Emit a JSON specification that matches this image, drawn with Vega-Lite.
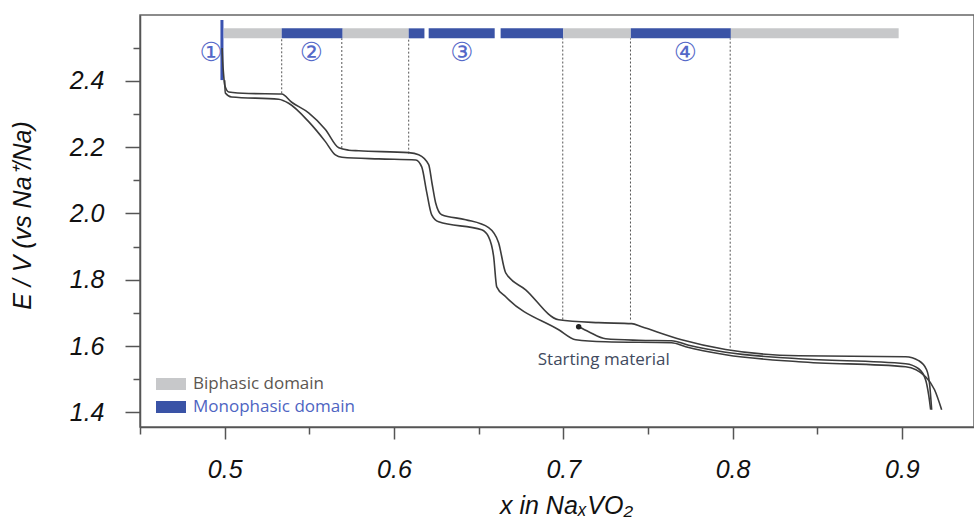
{
  "$schema": "https://vega.github.io/schema/vega-lite/v6.json",
  "width": 834,
  "height": 412,
  "autosize": {"type": "none"},
  "padding": {"left": 140, "top": 15, "right": 0, "bottom": 98},
  "background": "white",
  "config": {
    "view": {"stroke": "#666", "strokeWidth": 1.5},
    "axis": {"grid": false}
  },
  "datasets": {
    "curves": [
      {"run": "charge", "x": 0.4985, "y": 2.4985},
      {"run": "charge", "x": 0.4988, "y": 2.4626},
      {"run": "charge", "x": 0.4994, "y": 2.4175},
      {"run": "charge", "x": 0.5, "y": 2.3873},
      {"run": "charge", "x": 0.5024, "y": 2.366},
      {"run": "charge", "x": 0.5142, "y": 2.3614},
      {"run": "charge", "x": 0.5337, "y": 2.36},
      {"run": "charge", "x": 0.5396, "y": 2.335},
      {"run": "charge", "x": 0.5496, "y": 2.303},
      {"run": "charge", "x": 0.5595, "y": 2.253},
      {"run": "charge", "x": 0.5674, "y": 2.1976},
      {"run": "charge", "x": 0.5733, "y": 2.1905},
      {"run": "charge", "x": 0.5792, "y": 2.1886},
      {"run": "charge", "x": 0.6087, "y": 2.183},
      {"run": "charge", "x": 0.6146, "y": 2.1769},
      {"run": "charge", "x": 0.6205, "y": 2.1467},
      {"run": "charge", "x": 0.6225, "y": 2.09},
      {"run": "charge", "x": 0.6246, "y": 2.0322},
      {"run": "charge", "x": 0.6282, "y": 1.9961},
      {"run": "charge", "x": 0.6424, "y": 1.981},
      {"run": "charge", "x": 0.6559, "y": 1.957},
      {"run": "charge", "x": 0.6618, "y": 1.9117},
      {"run": "charge", "x": 0.666, "y": 1.8208},
      {"run": "charge", "x": 0.6778, "y": 1.7696},
      {"run": "charge", "x": 0.6973, "y": 1.6792},
      {"run": "charge", "x": 0.7209, "y": 1.6705},
      {"run": "charge", "x": 0.7404, "y": 1.6675},
      {"run": "charge", "x": 0.7463, "y": 1.6581},
      {"run": "charge", "x": 0.7699, "y": 1.619},
      {"run": "charge", "x": 0.7959, "y": 1.5895},
      {"run": "charge", "x": 0.839, "y": 1.5708},
      {"run": "charge", "x": 0.9022, "y": 1.5678},
      {"run": "charge", "x": 0.9099, "y": 1.556},
      {"run": "charge", "x": 0.9146, "y": 1.5286},
      {"run": "charge", "x": 0.9164, "y": 1.4835},
      {"run": "charge", "x": 0.9176, "y": 1.4081},
      {"run": "discharge", "x": 0.5, "y": 2.4015},
      {"run": "discharge", "x": 0.5004, "y": 2.363},
      {"run": "discharge", "x": 0.5041, "y": 2.3509},
      {"run": "discharge", "x": 0.5319, "y": 2.344},
      {"run": "discharge", "x": 0.5378, "y": 2.3319},
      {"run": "discharge", "x": 0.5496, "y": 2.2765},
      {"run": "discharge", "x": 0.5595, "y": 2.2163},
      {"run": "discharge", "x": 0.5654, "y": 2.1762},
      {"run": "discharge", "x": 0.5693, "y": 2.1693},
      {"run": "discharge", "x": 0.591, "y": 2.1642},
      {"run": "discharge", "x": 0.6129, "y": 2.1611},
      {"run": "discharge", "x": 0.6164, "y": 2.14},
      {"run": "discharge", "x": 0.6193, "y": 2.065},
      {"run": "discharge", "x": 0.6223, "y": 1.9955},
      {"run": "discharge", "x": 0.6264, "y": 1.9744},
      {"run": "discharge", "x": 0.6518, "y": 1.9503},
      {"run": "discharge", "x": 0.6559, "y": 1.9292},
      {"run": "discharge", "x": 0.6589, "y": 1.869},
      {"run": "discharge", "x": 0.6607, "y": 1.7786},
      {"run": "discharge", "x": 0.666, "y": 1.7485},
      {"run": "discharge", "x": 0.6973, "y": 1.6491},
      {"run": "discharge", "x": 0.7074, "y": 1.619},
      {"run": "discharge", "x": 0.725, "y": 1.6129},
      {"run": "discharge", "x": 0.764, "y": 1.6099},
      {"run": "discharge", "x": 0.7723, "y": 1.5979},
      {"run": "discharge", "x": 0.7959, "y": 1.5738},
      {"run": "discharge", "x": 0.839, "y": 1.5527},
      {"run": "discharge", "x": 0.9022, "y": 1.5377},
      {"run": "discharge", "x": 0.914, "y": 1.5075},
      {"run": "discharge", "x": 0.9193, "y": 1.4684},
      {"run": "discharge", "x": 0.9235, "y": 1.4081},
      {"run": "first", "x": 0.7091, "y": 1.6581},
      {"run": "first", "x": 0.715, "y": 1.6431},
      {"run": "first", "x": 0.725, "y": 1.622},
      {"run": "first", "x": 0.7445, "y": 1.6175},
      {"run": "first", "x": 0.764, "y": 1.616},
      {"run": "first", "x": 0.7741, "y": 1.6024},
      {"run": "first", "x": 0.7959, "y": 1.5813},
      {"run": "first", "x": 0.839, "y": 1.5617},
      {"run": "first", "x": 0.9022, "y": 1.5467},
      {"run": "first", "x": 0.9099, "y": 1.5316},
      {"run": "first", "x": 0.914, "y": 1.4985},
      {"run": "first", "x": 0.9158, "y": 1.4533},
      {"run": "first", "x": 0.917, "y": 1.4081}
    ],
    "bars": [
      {"phase": "Biphasic domain", "x": 0.4995, "x2": 0.5337},
      {"phase": "Monophasic domain", "x": 0.5337, "x2": 0.5697},
      {"phase": "Biphasic domain", "x": 0.5697, "x2": 0.6087},
      {"phase": "Monophasic domain", "x": 0.6087, "x2": 0.618},
      {"phase": "Monophasic domain", "x": 0.6205, "x2": 0.6595},
      {"phase": "Monophasic domain", "x": 0.663, "x2": 0.7},
      {"phase": "Biphasic domain", "x": 0.7, "x2": 0.7399},
      {"phase": "Monophasic domain", "x": 0.7399, "x2": 0.799},
      {"phase": "Biphasic domain", "x": 0.799, "x2": 0.8981}
    ],
    "bounds": [
      {"x": 0.5337, "y": 2.362},
      {"x": 0.5692, "y": 2.197},
      {"x": 0.6087, "y": 2.18},
      {"x": 0.6997, "y": 1.68},
      {"x": 0.7397, "y": 1.68},
      {"x": 0.7986, "y": 1.595}
    ],
    "domain1": [{"x": 0.4984, "y": 2.4018, "y2": 2.583}],
    "regions": [
      {"label": "①", "x": 0.4921, "y": 2.4834},
      {"label": "②", "x": 0.5512, "y": 2.4834},
      {"label": "③", "x": 0.6402, "y": 2.4834},
      {"label": "④", "x": 0.7721, "y": 2.4834}
    ],
    "start": [{"label": "Starting material", "x": 0.7091, "y": 1.6581, "lx": 0.7239, "ly": 1.559}]
  },
  "layer": [
    {
      "data": {"name": "bounds"},
      "mark": {"type": "rule", "color": "#555", "strokeWidth": 1, "strokeDash": [2, 2]},
      "encoding": {
        "x": {"field": "x", "type": "quantitative", "scale": {"domain": [0.45, 0.9426], "nice": false, "zero": false}, "axis": null},
        "y": {"field": "y", "type": "quantitative", "scale": {"domain": [1.356, 2.598], "nice": false, "zero": false}, "axis": null},
        "y2": {"datum": 2.5277}
      }
    },
    {
      "data": {"name": "bars"},
      "mark": {"type": "rect"},
      "encoding": {
        "x": {"field": "x", "type": "quantitative", "scale": {"domain": [0.45, 0.9426], "nice": false, "zero": false}, "axis": null},
        "x2": {"field": "x2"},
        "y": {"datum": 2.5277, "type": "quantitative", "scale": {"domain": [1.356, 2.598], "nice": false, "zero": false}, "axis": null},
        "y2": {"datum": 2.5578},
        "fill": {
          "field": "phase",
          "type": "nominal",
          "scale": {"domain": ["Biphasic domain", "Monophasic domain"], "range": ["#c7c8ca", "#3a53a6"]},
          "legend": {
            "orient": "none",
            "legendX": 16,
            "legendY": 354,
            "title": null,
            "padding": 0,
            "symbolType": "M-1,-0.4H1V0.4H-1Z",
            "symbolSize": 900,
            "symbolStrokeWidth": 0,
            "symbolOpacity": 1,
            "labelFont": "Open Sans",
            "labelFontSize": 17,
            "labelLimit": 400,
            "labelOffset": 7,
            "rowPadding": -8,
            "encode": {
              "labels": {"update": {"fill": {"signal": "datum.label === 'Monophasic domain' ? '#4e64c2' : '#5c5651'"}}}
            }
          }
        }
      }
    },
    {
      "data": {"name": "domain1"},
      "mark": {"type": "rule", "color": "#3a52b0", "strokeWidth": 3},
      "encoding": {
        "x": {"field": "x", "type": "quantitative", "scale": {"domain": [0.45, 0.9426], "nice": false, "zero": false}, "axis": null},
        "y": {"field": "y", "type": "quantitative", "scale": {"domain": [1.356, 2.598], "nice": false, "zero": false}, "axis": null},
        "y2": {"field": "y2"}
      }
    },
    {
      "data": {"name": "curves"},
      "mark": {"type": "line", "color": "#3c3c3c", "strokeWidth": 1.6, "interpolate": "monotone"},
      "encoding": {
        "detail": {"field": "run", "type": "nominal"},
        "x": {
          "field": "x", "type": "quantitative",
          "scale": {"domain": [0.45, 0.9426], "nice": false, "zero": false},
          "axis": {
            "orient": "bottom",
            "values": [0.5, 0.6, 0.7, 0.8, 0.9],
            "format": ".1f",
            "tickSize": 12, "tickWidth": 1.5, "tickColor": "#555",
            "domainColor": "#555", "domainWidth": 1.5,
            "labelFont": "Liberation Sans", "labelFontSize": 25, "labelFontStyle": "italic", "labelColor": "#111",
            "labelPadding": 18, "labelBaseline": "top",
            "title": "x in NaₓVO₂",
            "titleFont": "Liberation Sans", "titleFontSize": 25, "titleFontStyle": "italic", "titleFontWeight": "normal", "titleColor": "#111",
            "titleX": 426, "titleY": 86, "titleAlign": "center", "titleBaseline": "alphabetic"
          }
        },
        "y": {
          "field": "y", "type": "quantitative",
          "scale": {"domain": [1.356, 2.598], "nice": false, "zero": false},
          "axis": {
            "orient": "left",
            "values": [1.4, 1.6, 1.8, 2.0, 2.2, 2.4],
            "format": ".1f",
            "tickSize": 15, "tickWidth": 1.5, "tickColor": "#555",
            "domainColor": "#555", "domainWidth": 1.5,
            "labelFont": "Liberation Sans", "labelFontSize": 25, "labelFontStyle": "italic", "labelColor": "#111",
            "labelPadding": 21,
            "title": "E / V (vs Na⁺/Na)",
            "titleFont": "Liberation Sans", "titleFontSize": 25, "titleFontStyle": "italic", "titleFontWeight": "normal", "titleColor": "#111",
            "titleX": -118, "titleY": 200, "titleAngle": 270, "titleAlign": "center", "titleBaseline": "middle"
          }
        }
      }
    },
    {
      "data": {"name": "start"},
      "mark": {"type": "point", "filled": true, "color": "#222", "size": 30, "opacity": 1},
      "encoding": {
        "x": {
          "field": "x", "type": "quantitative",
          "scale": {"domain": [0.45, 0.9426], "nice": false, "zero": false},
          "axis": {"orient": "bottom", "values": [0.45, 0.55, 0.65, 0.75, 0.85], "labels": false, "domain": false, "tickSize": 7, "tickWidth": 1.5, "tickColor": "#555", "title": null}
        },
        "y": {
          "field": "y", "type": "quantitative",
          "scale": {"domain": [1.356, 2.598], "nice": false, "zero": false},
          "axis": {"orient": "left", "values": [1.5, 1.7, 1.9, 2.1, 2.3, 2.5], "labels": false, "domain": false, "tickSize": 7, "tickWidth": 1.5, "tickColor": "#555", "title": null}
        }
      }
    },
    {
      "data": {"name": "start"},
      "mark": {"type": "text", "font": "Open Sans", "fontSize": 17, "color": "#414a5e", "align": "center", "baseline": "middle"},
      "encoding": {
        "x": {"field": "lx", "type": "quantitative", "scale": {"domain": [0.45, 0.9426], "nice": false, "zero": false}, "axis": null},
        "y": {"field": "ly", "type": "quantitative", "scale": {"domain": [1.356, 2.598], "nice": false, "zero": false}, "axis": null},
        "text": {"field": "label"}
      }
    },
    {
      "data": {"name": "regions"},
      "mark": {"type": "text", "font": "DejaVu Sans", "fontSize": 26, "color": "#5468c8", "align": "center", "baseline": "middle"},
      "encoding": {
        "x": {"field": "x", "type": "quantitative", "scale": {"domain": [0.45, 0.9426], "nice": false, "zero": false}, "axis": null},
        "y": {"field": "y", "type": "quantitative", "scale": {"domain": [1.356, 2.598], "nice": false, "zero": false}, "axis": null},
        "text": {"field": "label"}
      }
    }
  ],
  "resolve": {"axis": {"x": "independent", "y": "independent"}}
}
